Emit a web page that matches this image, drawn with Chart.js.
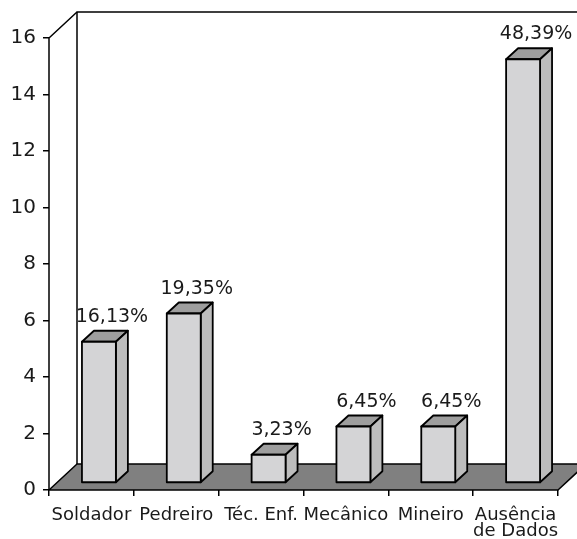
<!DOCTYPE html>
<html>
<head>
  <meta charset="utf-8">
  <title>Ocupação</title>
  <script src="https://cdn.jsdelivr.net/npm/chart.js@4/dist/chart.umd.min.js"></script>
  <style>
    html, body { margin: 0; padding: 0; background: #fff; }
    #wrap { width: 577px; height: 539px; }
  </style>
</head>
<body>
  <div id="wrap"><canvas id="occChart" width="577" height="539"></canvas></div>
  <script>
    const categories = ['Soldador', 'Pedreiro', 'Téc. Enf.', 'Mecânico', 'Mineiro', ['Ausência', 'de Dados']];
    const counts = [5, 6, 1, 2, 2, 15];
    const percentLabels = ['16,13%', '19,35%', '3,23%', '6,45%', '6,45%', '48,39%'];
    const yTicks = [0, 2, 4, 6, 8, 10, 12, 14, 16];

    const FONT = '"DejaVu Sans", sans-serif';
    // depth of the box (back wall offset) and where bars sit inside it
    const DEPTH_X = 28, DEPTH_Y = -26;
    const BAR_OX = 7.5, BAR_OY = -7;
    const BAR_DX = 12, BAR_DY = -11;

    const box3d = {
      id: 'box3d',
      beforeDatasetsDraw(chart) {
        const { ctx, chartArea: a } = chart;
        const L = a.left, R = a.right, T = a.top, B = a.bottom;
        ctx.save();
        ctx.strokeStyle = '#000';
        ctx.lineWidth = 1.5;
        ctx.lineJoin = 'round';

        // back wall
        ctx.beginPath();
        ctx.moveTo(L + DEPTH_X, B + DEPTH_Y);
        ctx.lineTo(L + DEPTH_X, T + DEPTH_Y);
        ctx.lineTo(R + DEPTH_X, T + DEPTH_Y);
        ctx.stroke();

        // left wall
        ctx.beginPath();
        ctx.moveTo(L, B);
        ctx.lineTo(L, T);
        ctx.lineTo(L + DEPTH_X, T + DEPTH_Y);
        ctx.stroke();

        // floor
        ctx.fillStyle = '#808080';
        ctx.beginPath();
        ctx.moveTo(L, B);
        ctx.lineTo(R, B);
        ctx.lineTo(R + DEPTH_X, B + DEPTH_Y);
        ctx.lineTo(L + DEPTH_X, B + DEPTH_Y);
        ctx.closePath();
        ctx.fill();
        ctx.stroke();
        ctx.restore();
      },
      afterDatasetsDraw(chart) {
        const { ctx } = chart;
        const meta = chart.getDatasetMeta(0);
        ctx.save();
        ctx.strokeStyle = '#000';
        ctx.lineWidth = 1.8;
        ctx.lineJoin = 'round';
        meta.data.forEach((bar, i) => {
          const l = bar.x - bar.width / 2 + BAR_OX;
          const r = bar.x + bar.width / 2 + BAR_OX;
          const t = bar.y + BAR_OY;
          const b = bar.base + BAR_OY;

          // top face
          ctx.fillStyle = '#9e9e9e';
          ctx.beginPath();
          ctx.moveTo(l, t);
          ctx.lineTo(l + BAR_DX, t + BAR_DY);
          ctx.lineTo(r + BAR_DX, t + BAR_DY);
          ctx.lineTo(r, t);
          ctx.closePath();
          ctx.fill();
          ctx.stroke();

          // side face
          ctx.fillStyle = '#bdbdbd';
          ctx.beginPath();
          ctx.moveTo(r, t);
          ctx.lineTo(r + BAR_DX, t + BAR_DY);
          ctx.lineTo(r + BAR_DX, b + BAR_DY);
          ctx.lineTo(r, b);
          ctx.closePath();
          ctx.fill();
          ctx.stroke();

          // front face
          ctx.fillStyle = '#d4d4d6';
          ctx.fillRect(l, t, r - l, b - t);
          ctx.strokeRect(l, t, r - l, b - t);

          // percentage label
          ctx.font = '19px ' + FONT;
          ctx.fillStyle = '#1a1a1a';
          ctx.textAlign = 'center';
          ctx.textBaseline = 'alphabetic';
          const w = ctx.measureText(percentLabels[i]).width;
          let cx = (l + r) / 2 + 13;
          cx = Math.min(cx, chart.width - 3 - w / 2);
          ctx.fillText(percentLabels[i], cx, t - 20);
        });
        ctx.restore();
      }
    };

    new Chart(document.getElementById('occChart'), {
      type: 'bar',
      data: {
        labels: categories,
        datasets: [{
          data: counts,
          backgroundColor: 'rgba(0,0,0,0)',
          borderWidth: 0,
          categoryPercentage: 0.4,
          barPercentage: 1
        }]
      },
      options: {
        responsive: false,
        animation: false,
        events: [],
        layout: { padding: { top: 38, right: 19, left: 0, bottom: 0 } },
        plugins: {
          legend: { display: false },
          tooltip: { enabled: false }
        },
        scales: {
          x: {
            offset: true,
            grid: { drawOnChartArea: false, drawTicks: true, tickLength: 6, color: '#000', lineWidth: 1.5, offset: true },
            border: { display: false },
            ticks: { color: '#1a1a1a', font: { family: FONT, size: 18, lineHeight: 0.9 }, padding: 11, maxRotation: 0, autoSkip: false },
            afterFit(scale) { scale.height = 49; }
          },
          y: {
            min: 0,
            max: 16,
            afterBuildTicks(scale) { scale.ticks = yTicks.map(v => ({ value: v })); },
            grid: { drawOnChartArea: false, drawTicks: true, tickLength: 6, color: '#000', lineWidth: 1.5 },
            border: { display: false },
            ticks: { color: '#1a1a1a', font: { family: FONT, size: 20 }, padding: 7 },
            afterFit(scale) { scale.width = 49; }
          }
        }
      },
      plugins: [box3d]
    });
  </script>
</body>
</html>
